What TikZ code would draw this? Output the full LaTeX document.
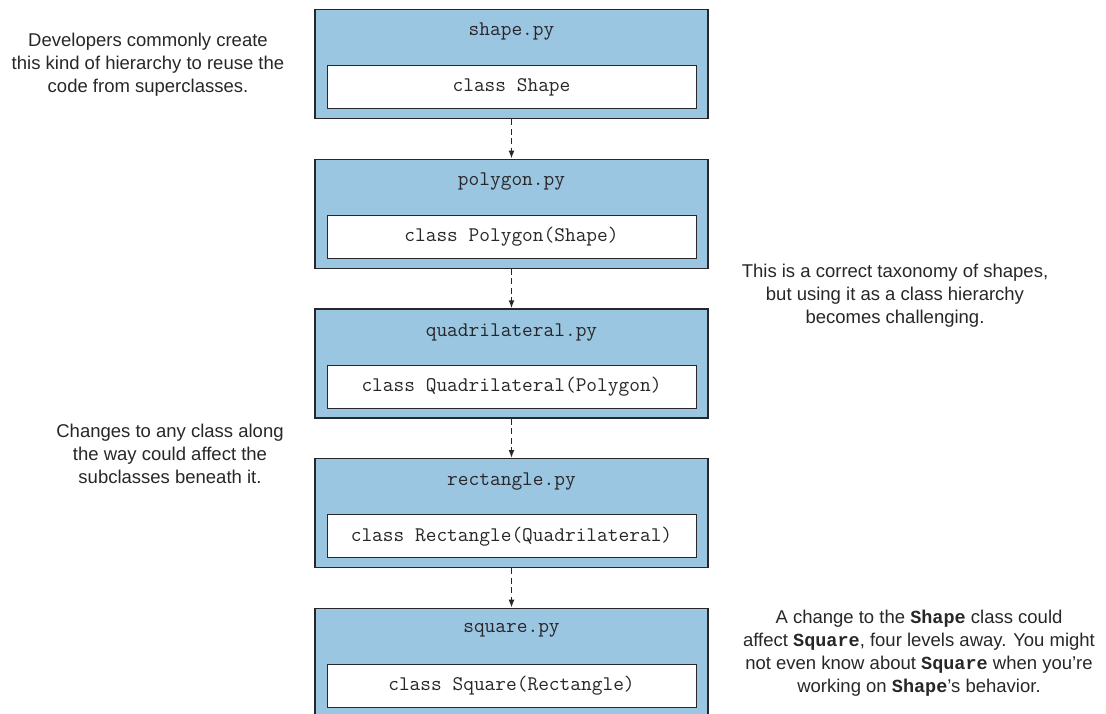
\documentclass[tikz,border=0pt]{standalone}
\usepackage{fontspec}
\setmainfont{Liberation Sans}
\newfontfamily\heavymono{Liberation Mono}
\usepackage{tikz}
\usetikzlibrary{arrows.meta,positioning}
\definecolor{filefill}{RGB}{155,198,225}
\definecolor{inkgray}{RGB}{40,38,40}
\newcommand{\figfont}{\fontsize{18.5pt}{23pt}\selectfont}
\newcommand{\monofont}{\fontsize{20.8pt}{23pt}\selectfont\ttfamily}
\newcommand{\codeword}[1]{{\heavymono\bfseries #1}}
\tikzset{
    filebox/.style={rectangle, draw=inkgray, fill=filefill, line width=1.2pt,
                    minimum width=393pt, minimum height=109pt, inner sep=0pt},
    clsbox/.style={rectangle, draw=inkgray, fill=white, line width=1pt,
                   minimum width=369pt, minimum height=43pt, inner sep=0pt,
                   font=\monofont, text=inkgray},
    fname/.style={font=\monofont, text=inkgray, inner sep=0pt},
    dep/.style={-{Latex[length=8pt,width=6pt]}, line width=1.5pt,
                dash pattern=on 6pt off 3.5pt, draw=inkgray},
    note/.style={font=\figfont, text=inkgray, align=center, inner sep=0pt},
}

\begin{document}
\begin{tikzpicture}[x=1pt, y=1pt, node distance=39.5pt]
    \useasboundingbox (0,0) rectangle (1106,-713);
    \clip (0,0) rectangle (1106,-713);

    \node[filebox] (shape) at (511.5,-64) {};
    \node[filebox, below=of shape]   (polygon) {};
    \node[filebox, below=of polygon] (quad)    {};
    \node[filebox, below=of quad]    (rect)    {};
    \node[filebox, below=of rect]    (square)  {};

    \node[fname] (shapetitle)   at ([yshift=-23pt]shape.north)   {shape.py};
    \node[fname] (polygontitle) at ([yshift=-23pt]polygon.north) {polygon.py};
    \node[fname] (quadtitle)    at ([yshift=-24pt]quad.north)    {quadrilateral.py};
    \node[fname] (recttitle)    at ([yshift=-24pt]rect.north)    {rectangle.py};
    \node[fname] (squaretitle)  at ([yshift=-23pt]square.north)  {square.py};

    \node[clsbox, above=10pt of shape.south]   (shapecls)   {class Shape};
    \node[clsbox, above=10pt of polygon.south] (polygoncls) {class Polygon(Shape)};
    \node[clsbox, above=10pt of quad.south]    (quadcls)    {class Quadrilateral(Polygon)};
    \node[clsbox, above=10pt of rect.south]    (rectcls)    {class Rectangle(Quadrilateral)};
    \node[clsbox, above=10pt of square.south]  (squarecls)  {class Square(Rectangle)};

    \draw[dep] (shape) -- (polygon);
    \draw[dep] (polygon) -- (quad);
    \draw[dep] (quad) -- (rect);
    \draw[dep] (rect) -- (square);

    \node[note] (reuse) at (148,-65)
        {Developers commonly create\\this kind of hierarchy to reuse the\\code from superclasses.};
    \node[note] (taxonomy) at (895,-295.5)
        {This is a correct taxonomy of shapes,\\but using it as a class hierarchy\\becomes challenging.};
    \node[note] (ripple) at (170,-453.5)
        {Changes to any class along\\the way could affect the\\subclasses beneath it.};
    \node[note] (faraway) at (919,-653.5)
        {A change to the \codeword{Shape} class could\\affect \codeword{Square}, four levels away. You might\\not even know about \codeword{Square} when you’re\\working on \codeword{Shape}’s behavior.};
\end{tikzpicture}
\end{document}
